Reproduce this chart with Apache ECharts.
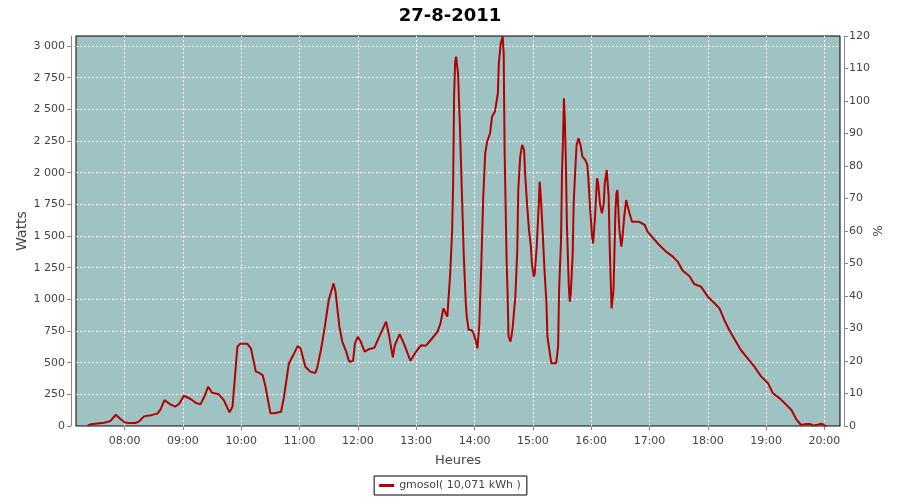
<!DOCTYPE html>
<html>
<head>
<meta charset="utf-8">
<script src="https://cdn.jsdelivr.net/npm/echarts@6/dist/echarts.min.js"></script>
<style>
html,body{margin:0;padding:0;background:#fff;}
#chart{width:900px;height:500px;}
</style>
</head>
<body>
<div id="chart"></div>
<script>
const chartTitle = '27-8-2011';
const seriesName = 'gmosol( 10,071 kWh )';
const times = ['7:22','7:25','7:30','7:39','7:45','7:51','7:56','8:00','8:04','8:11','8:15','8:20','8:27','8:34','8:37','8:41','8:47','8:52','8:56','9:01','9:08','9:13','9:18','9:22','9:26','9:30','9:37','9:42','9:46','9:48','9:51','9:53','9:56','9:59','10:06','10:10','10:15','10:18','10:22','10:25','10:30','10:34','10:36','10:41','10:44','10:49','10:53','10:58','11:01','11:06','11:11','11:16','11:18','11:22','11:26','11:30','11:35','11:37','11:41','11:44','11:48','11:51','11:55','11:57','12:00','12:03','12:07','12:12','12:17','12:22','12:29','12:32','12:36','12:38','12:43','12:48','12:54','13:01','13:05','13:10','13:15','13:22','13:25','13:28','13:30','13:32','13:34','13:35','13:37','13:38','13:39','13:40','13:41','13:43','13:45','13:47','13:49','13:51','13:52','13:54','13:57','13:59','14:02','14:03','14:05','14:07','14:09','14:11','14:13','14:16','14:18','14:21','14:22','14:24','14:25','14:27','14:29','14:30','14:31','14:33','14:34','14:35','14:37','14:39','14:42','14:44','14:45','14:47','14:49','14:51','14:52','14:54','14:56','14:58','14:59','15:01','15:02','15:04','15:06','15:07','15:08','15:10','15:12','15:14','15:15','15:17','15:19','15:21','15:24','15:26','15:27','15:29','15:30','15:31','15:32','15:33','15:34','15:35','15:37','15:38','15:39','15:41','15:42','15:44','15:45','15:47','15:49','15:51','15:54','15:56','15:57','15:59','16:01','16:02','16:04','16:06','16:07','16:09','16:11','16:13','16:14','16:16','16:18','16:19','16:20','16:21','16:23','16:25','16:26','16:27','16:29','16:31','16:32','16:34','16:36','16:37','16:39','16:42','16:49','16:55','16:58','17:03','17:10','17:17','17:24','17:29','17:34','17:41','17:46','17:53','18:00','18:07','18:12','18:17','18:22','18:28','18:34','18:41','18:48','18:55','19:02','19:07','19:14','19:21','19:26','19:31','19:36','19:41','19:45','19:48','19:53','19:57','20:00','20:02'];
const watts = [3,13,18,26,37,89,53,29,24,24,37,76,84,100,131,205,171,153,174,239,213,184,171,231,310,263,250,205,139,108,153,337,626,650,650,613,429,421,402,310,100,100,110,113,231,494,552,631,613,468,429,418,455,600,784,994,1126,1060,784,665,587,508,513,652,705,665,587,608,618,705,823,718,542,639,726,639,515,600,637,634,679,745,811,929,934,863,876,1205,1548,1916,2600,2864,2916,2785,2363,1837,1337,969,863,758,758,732,653,613,811,1284,1811,2153,2245,2311,2442,2482,2495,2627,2864,3021,3074,2943,2153,1311,1047,705,666,758,1021,1390,1863,2127,2219,2179,1995,1758,1548,1416,1284,1179,1205,1416,1732,1929,1837,1548,1232,969,705,600,495,482,495,626,1074,1469,1995,2258,2587,2390,2074,1600,1100,982,1047,1363,1758,2074,2219,2271,2219,2127,2100,2061,1968,1705,1495,1442,1653,1955,1929,1758,1679,1758,1916,2021,1811,1442,1179,929,1074,1705,1837,1863,1548,1416,1469,1653,1784,1784,1692,1613,1613,1587,1534,1490,1429,1377,1337,1298,1227,1184,1121,1100,1021,969,929,837,758,679,600,534,468,390,337,258,218,166,126,53,8,16,16,5,10,18,5,0];
const xRange = ['7:10', '20:16'];
const leftAxisRange = [0, 3079];
const rightAxisRange = [0, 120];

function ts(s) {
  const p = s.split(':');
  return new Date(2011, 7, 27, +p[0], +p[1]).getTime();
}
function pad(n) { return (n < 10 ? '0' : '') + n; }
function thousands(v) { return String(v).replace(/\B(?=(\d{3})+(?!\d))/g, ' '); }

const data = times.map((t, i) => [ts(t), watts[i]]);
const FONT = 'DejaVu Sans';
const gridLine = { show: true, showMinLine: false, showMaxLine: false, lineStyle: { color: '#fff', type: [2, 2], width: 1 } };
const chart = echarts.init(document.getElementById('chart'));
chart.setOption({
  animation: false,
  backgroundColor: '#ffffff',
  textStyle: { fontFamily: FONT },
  title: {
    text: chartTitle, left: 'center', top: 2,
    textStyle: { fontFamily: FONT, fontSize: 18, fontWeight: 'bold', color: '#000' }
  },
  legend: {
    data: [seriesName], left: 'center', top: 476,
    borderColor: '#000', borderWidth: 1, borderRadius: 0,
    padding: [4, 6, 4, 5], itemWidth: 15, itemHeight: 3, icon: 'rect',
    textStyle: { fontFamily: FONT, fontSize: 11, color: '#444' }
  },
  grid: {
    left: 76, top: 36, width: 764, height: 390,
    show: true, backgroundColor: '#9ec3c2', borderColor: '#000', borderWidth: 1,
    containLabel: false
  },
  xAxis: {
    type: 'time', min: ts(xRange[0]), max: ts(xRange[1]),
    minInterval: 3600000, maxInterval: 3600000, offset: 4,
    name: 'Heures', nameLocation: 'middle', nameGap: 24, nameMoveOverlap: false,
    nameTextStyle: { fontFamily: FONT, fontSize: 13, color: '#444' },
    axisLine: { show: true, lineStyle: { color: '#888', width: 1 } },
    axisTick: { show: true, length: 4, lineStyle: { color: '#888' } },
    axisLabel: {
      margin: 6, color: '#444', fontFamily: FONT, fontSize: 11,
      formatter: function (v) { const d = new Date(v); return pad(d.getHours()) + ':' + pad(d.getMinutes()); }
    },
    splitLine: gridLine
  },
  yAxis: [{
    type: 'value', position: 'left', min: leftAxisRange[0], max: leftAxisRange[1], interval: 250, offset: 5,
    name: 'Watts', nameLocation: 'middle', nameGap: 42, nameMoveOverlap: false,
    nameTextStyle: { fontFamily: FONT, fontSize: 14, color: '#444' },
    axisLine: { show: true, lineStyle: { color: '#888', width: 1 } },
    axisTick: { show: true, length: 4, lineStyle: { color: '#888' } },
    axisLabel: { margin: 6, color: '#444', fontFamily: FONT, fontSize: 11, showMaxLabel: false,
      formatter: function (v) { return v % 250 === 0 ? thousands(v) : ''; } },
    splitLine: gridLine
  }, {
    type: 'value', position: 'right', min: rightAxisRange[0], max: rightAxisRange[1], interval: 10, offset: 4,
    name: '%', nameLocation: 'middle', nameGap: 29, nameRotate: 90, nameMoveOverlap: false,
    nameTextStyle: { fontFamily: FONT, fontSize: 12, color: '#444' },
    axisLine: { show: true, lineStyle: { color: '#888', width: 1 } },
    axisTick: { show: true, length: 4, lineStyle: { color: '#888' } },
    axisLabel: { margin: 5, color: '#444', fontFamily: FONT, fontSize: 11 },
    splitLine: { show: false }
  }],
  series: [{
    name: seriesName, type: 'line', yAxisIndex: 0, data: data,
    showSymbol: false, symbol: 'none', smooth: false,
    lineStyle: { color: '#b30000', width: 2 }, itemStyle: { color: '#b30000' }
  }]
});
</script>
</body>
</html>
